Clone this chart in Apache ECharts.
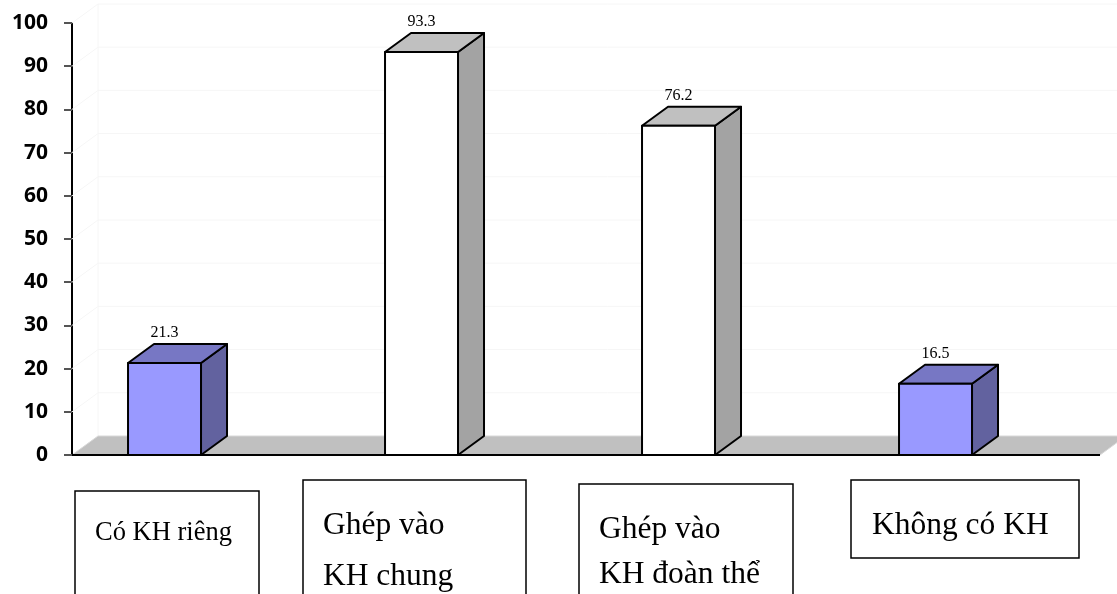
<!DOCTYPE html>
<html>
<head>
<meta charset="utf-8">
<script src="https://cdn.jsdelivr.net/npm/echarts@6/dist/echarts.min.js"></script>
<style>
  html, body { margin: 0; padding: 0; background: #fff; }
  #chart { width: 1117px; height: 594px; }
</style>
</head>
<body>
<div id="chart"></div>
<script>
// data
const categories = ['Có KH riêng', 'Ghép vào\nKH chung', 'Ghép vào\nKH đoàn thể', 'Không có KH']
const values = [21.3, 93.3, 76.2, 16.5]
const yMin = 0
const yMax = 100
const yStep = 10

// 3D look
const DX = 26
const DY = 19
const barWidth = 0.284
const barColors = [
  { front: '#9999ff', top: '#7777c4', side: '#62629f' },
  { front: '#ffffff', top: '#c0c0c0', side: '#a3a3a3' },
  { front: '#ffffff', top: '#c0c0c0', side: '#a3a3a3' },
  { front: '#9999ff', top: '#7777c4', side: '#62629f' },
]

// label boxes under the chart (layout only)
const boxes = [
  { x: 75, y: 491, w: 184, h: 140, size: 26.5, tx: 95, baselines: [542] },
  { x: 303, y: 480, w: 223, h: 150, size: 31.5, tx: 323, baselines: [537, 588] },
  { x: 579, y: 484, w: 214, h: 150, size: 31.5, tx: 599, baselines: [541, 586] },
  { x: 851, y: 480, w: 228, h: 78, size: 31.5, tx: 872, baselines: [537] },
]

const chart = echarts.init(document.getElementById('chart'))

const renderFloor = (params, api) => {
  const cs = params.coordSys
  const y0 = api.coord([0, 0])[1]
  const xL = cs.x
  const xR = cs.x + cs.width
  const faint = { stroke: '#f6f6f6', lineWidth: 1 }
  const children = []
  // faint back wall
  for (let t = yMin + yStep; t <= yMax; t += yStep) {
    const y = api.coord([0, t])[1]
    children.push({ type: 'line', shape: { x1: xL + DX, y1: y - DY, x2: 1117, y2: y - DY }, style: faint })
    children.push({ type: 'line', shape: { x1: xL, y1: y, x2: xL + DX, y2: y - DY }, style: faint })
  }
  children.push({ type: 'line', shape: { x1: xL + DX, y1: y0 - DY, x2: xL + DX, y2: api.coord([0, yMax])[1] - DY }, style: faint })
  children.push({
    type: 'polygon',
    shape: { points: [[xL, y0], [xR, y0], [xR + DX, y0 - DY], [xL + DX, y0 - DY]] },
    style: { fill: '#c0c0c0', stroke: '#d8d8d8', lineWidth: 1 },
  })
  children.push({ type: 'line', shape: { x1: xL, y1: y0, x2: xR, y2: y0 }, style: { stroke: '#000', lineWidth: 2 } })
  return { type: 'group', children }
}

const renderBar = (params, api) => {
  const i = api.value(0)
  const v = api.value(1)
  const top = api.coord([i, v])
  const base = api.coord([i, 0])
  const w = api.size([barWidth, 0])[0]
  const x0 = top[0] - w / 2
  const x1 = top[0] + w / 2
  const yT = top[1]
  const yB = base[1]
  const c = barColors[params.dataIndex]
  const edge = { stroke: '#000', lineWidth: 2, lineJoin: 'round' }
  return {
    type: 'group',
    children: [
      { type: 'polygon', shape: { points: [[x1, yB], [x1 + DX, yB - DY], [x1 + DX, yT - DY], [x1, yT]] }, style: Object.assign({ fill: c.side }, edge) },
      { type: 'polygon', shape: { points: [[x0, yT], [x0 + DX, yT - DY], [x1 + DX, yT - DY], [x1, yT]] }, style: Object.assign({ fill: c.top }, edge) },
      { type: 'rect', shape: { x: x0, y: yT, width: w, height: yB - yT }, style: Object.assign({ fill: c.front }, edge) },
      {
        type: 'text',
        style: {
          text: String(v),
          x: top[0],
          y: yT - DY - 3,
          align: 'center',
          verticalAlign: 'bottom',
          font: '16px "Liberation Serif"',
          fill: '#000',
        },
      },
    ],
  }
}

const graphics = []
boxes.forEach((b, i) => {
  graphics.push({ type: 'rect', shape: { x: b.x, y: b.y, width: b.w, height: b.h }, style: { fill: '#fff', stroke: '#000', lineWidth: 1.5 } })
  categories[i].split('\n').forEach((line, k) => {
    graphics.push({
      type: 'text',
      x: b.tx,
      y: b.baselines[k] - b.size * 0.35,
      style: { text: line, font: b.size + 'px "Liberation Serif"', fill: '#000', verticalAlign: 'middle', align: 'left' },
    })
  })
})

const option = {
  animation: false,
  grid: { left: 72, right: 17, top: 23, bottom: 139 },
  xAxis: { type: 'value', min: -0.36, max: 3.64, show: false },
  yAxis: {
    type: 'value',
    min: yMin,
    max: yMax,
    interval: yStep,
    axisLine: { show: true, onZero: false, lineStyle: { color: '#000', width: 2 } },
    axisTick: { show: true, length: 8, lineStyle: { color: '#555', width: 2 } },
    axisLabel: { fontFamily: 'Open Sans', fontWeight: 'bold', fontSize: 21, color: '#000', margin: 24 },
    splitLine: { show: false },
  },
  series: [
    { type: 'custom', name: 'floor', renderItem: renderFloor, data: [[0, 0]], z: 1, silent: true },
    { type: 'custom', name: 'bars', renderItem: renderBar, data: values.map((v, i) => [i, v]), z: 2 },
  ],
  graphic: graphics,
}

chart.setOption(option)
</script>
</body>
</html>
